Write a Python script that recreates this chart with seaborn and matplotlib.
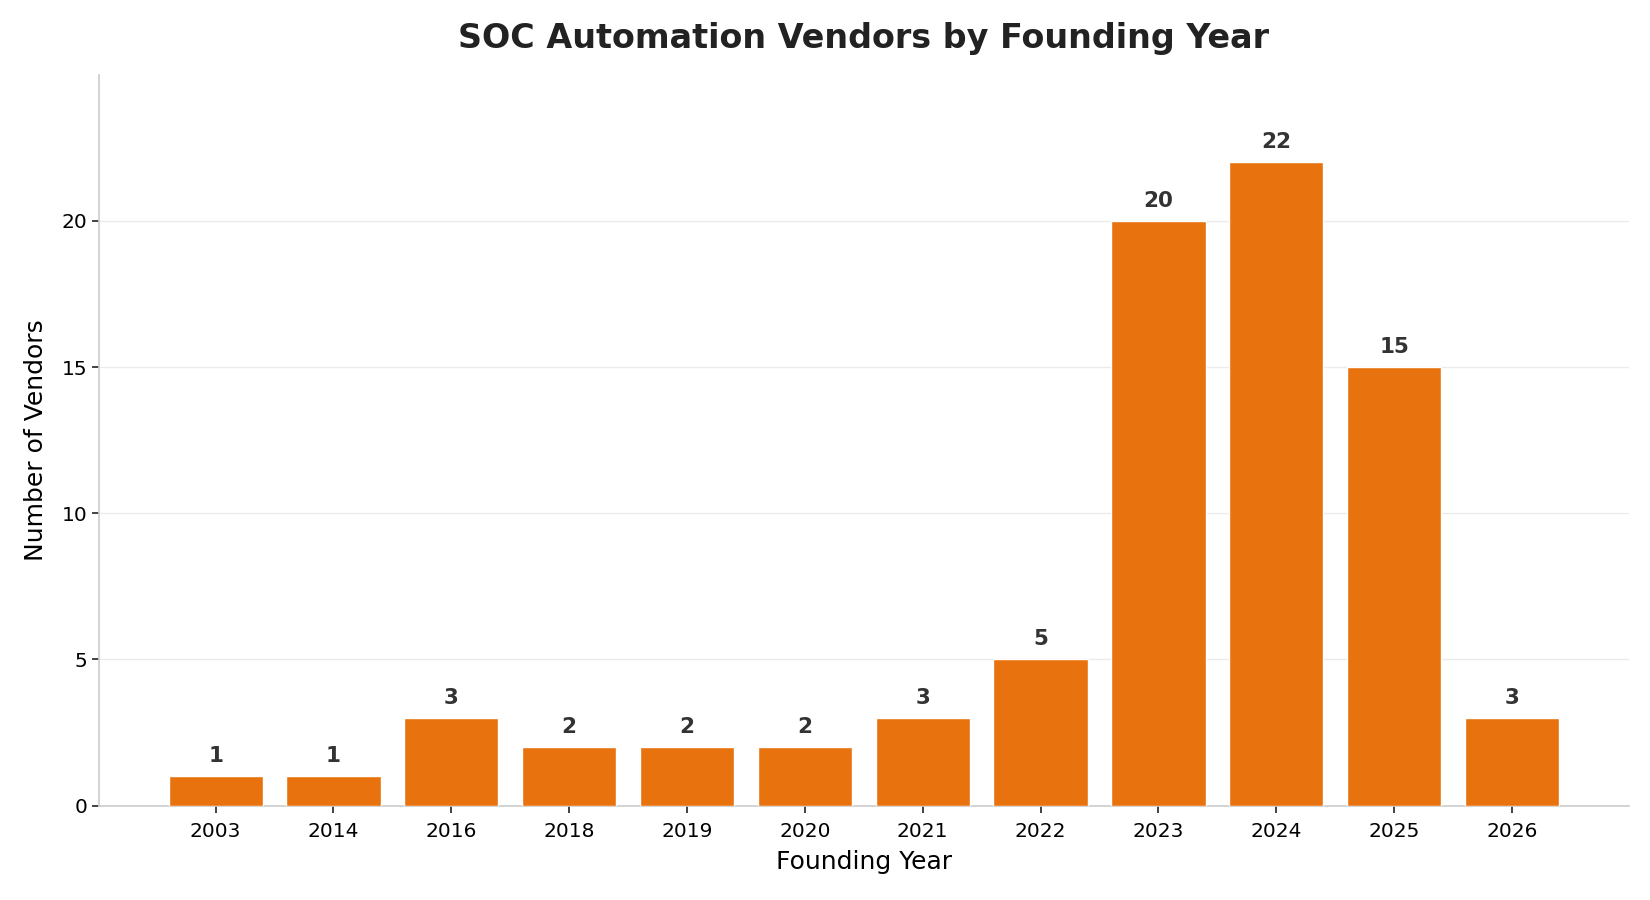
import matplotlib
matplotlib.use("Agg")
import matplotlib.pyplot as plt
import seaborn as sns
import pandas as pd

years = ["2003", "2014", "2016", "2018", "2019", "2020", "2021", "2022", "2023", "2024", "2025", "2026"]
counts = [1, 1, 3, 2, 2, 2, 3, 5, 20, 22, 15, 3]

sns.set_style("white")
plt.rcParams['font.family'] = ['DejaVu Sans']
plt.rcParams['text.color'] = 'black'
plt.rcParams['axes.labelcolor'] = 'black'
plt.rcParams['xtick.color'] = 'black'
plt.rcParams['ytick.color'] = 'black'

df = pd.DataFrame({"year": years, "count": counts})

fig, ax = plt.subplots(figsize=(16.5, 9), dpi=100)
fig.subplots_adjust(left=0.06, right=0.987, top=0.917, bottom=0.105)

sns.barplot(data=df, x="year", y="count", color="#E8730E", saturation=1,
            width=0.8, edgecolor="white", linewidth=1, ax=ax, zorder=3)

for i, v in enumerate(counts):
    ax.text(i, v + 0.35, str(v), ha="center", va="bottom", fontsize=15.5,
            fontweight="bold", color="#333333", zorder=4)

ax.set_xlim(-0.99, 11.99)
ax.set_ylim(0, 25)
ax.set_yticks([0, 5, 10, 15, 20])
ax.yaxis.grid(True, color="#EBEBEB", linewidth=1, zorder=0)
ax.set_axisbelow(True)

ax.tick_params(axis="both", labelsize=14.5, length=5, width=1.2, color="#222222", bottom=True, left=True)
ax.tick_params(axis="x", pad=7)
ax.set_xlabel("Founding Year", fontsize=18, labelpad=6)
ax.set_ylabel("Number of Vendors", fontsize=18, labelpad=10)
ax.set_title("SOC Automation Vendors by Founding Year", fontsize=24, fontweight="bold",
             color="#222222", pad=19)

for s in ["top", "right"]:
    ax.spines[s].set_visible(False)
for s in ["left", "bottom"]:
    ax.spines[s].set_color("#CCCCCC")
    ax.spines[s].set_linewidth(1.2)

fig.savefig("out.png", dpi=100)
